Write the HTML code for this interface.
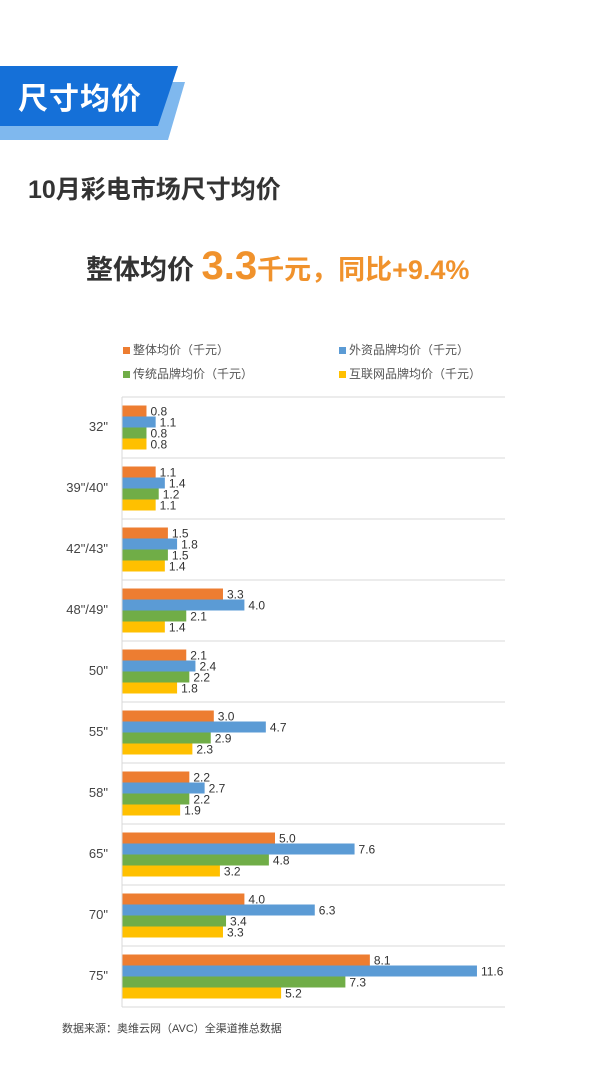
<!DOCTYPE html>
<html><head><meta charset="utf-8"><style>
body{margin:0;width:600px;height:1066px;background:#fff;position:relative;overflow:hidden;font-family:"Liberation Sans","Noto Sans CJK SC",sans-serif}
.abs{position:absolute}
</style></head><body>
<svg class="abs" style="left:0;top:0" width="600" height="140">
<polygon points="0,82 185,82 168,140 0,140" fill="#7fb8ee"/>
<polygon points="0,66 178,66 158,126 0,126" fill="#1570d8"/>
</svg>
<div class="abs" style="left:18px;top:74px;font-size:30px;font-weight:bold;color:#fff;letter-spacing:1px">尺寸均价</div>
<div class="abs" style="left:28px;top:170px;font-size:25px;font-weight:bold;color:#333">10月彩电市场尺寸均价</div>
<div class="abs" style="left:86px;top:244px;font-weight:bold;color:#333;font-size:27px;white-space:nowrap">整体均价 <span style="color:#f0922c;font-size:40px">3.3</span><span style="color:#f0922c">千元，同比+9.4%</span></div>
<div class="abs" style="left:123px;top:338px;font-size:12px;color:#555;line-height:24px">
<div><span style="display:inline-block;width:7px;height:7px;background:#ED7D31;margin-right:3px"></span>整体均价（千元）</div>
<div><span style="display:inline-block;width:7px;height:7px;background:#70AD47;margin-right:3px"></span>传统品牌均价（千元）</div>
</div>
<div class="abs" style="left:339px;top:338px;font-size:12px;color:#555;line-height:24px">
<div><span style="display:inline-block;width:7px;height:7px;background:#5B9BD5;margin-right:3px"></span>外资品牌均价（千元）</div>
<div><span style="display:inline-block;width:7px;height:7px;background:#FFC000;margin-right:3px"></span>互联网品牌均价（千元）</div>
</div>
<svg class="abs" style="left:0;top:0" width="600" height="1066" font-family="Liberation Sans, sans-serif">
<g id="c"></g>
</svg>
<div class="abs" style="left:62px;top:1020px;font-size:11px;color:#444">数据来源：奥维云网（AVC）全渠道推总数据</div>
<script>
var d=[["32\"",0.8,1.1,0.8,0.8],["39\"/40\"",1.1,1.4,1.2,1.1],["42\"/43\"",1.5,1.8,1.5,1.4],["48\"/49\"",3.3,4.0,2.1,1.4],["50\"",2.1,2.4,2.2,1.8],["55\"",3.0,4.7,2.9,2.3],["58\"",2.2,2.7,2.2,1.9],["65\"",5.0,7.6,4.8,3.2],["70\"",4.0,6.3,3.4,3.3],["75\"",8.1,11.6,7.3,5.2]];
var col=["#ED7D31","#5B9BD5","#70AD47","#FFC000"];var s="";
for(var i=0;i<10;i++){var y=397+61*i;
s+='<line x1="122" y1="'+y+'" x2="505" y2="'+y+'" stroke="#d9d9d9"/>';
s+='<text x="108" y="'+(y+34)+'" text-anchor="end" font-size="13" fill="#444">'+d[i][0]+'</text>';
for(var k=0;k<4;k++){var v=d[i][k+1],by=y+8.5+k*11,w=v*30.6;
s+='<rect x="122" y="'+by+'" width="'+w+'" height="11" fill="'+col[k]+'"/>';
s+='<text x="'+(126+w)+'" y="'+(by+10)+'" font-size="12" fill="#333">'+v.toFixed(1)+'</text>';}}
s+='<line x1="122" y1="1007" x2="505" y2="1007" stroke="#d9d9d9"/><line x1="122" y1="397" x2="122" y2="1007" stroke="#d9d9d9"/>';
document.getElementById("c").innerHTML=s;
</script>
</body></html>
